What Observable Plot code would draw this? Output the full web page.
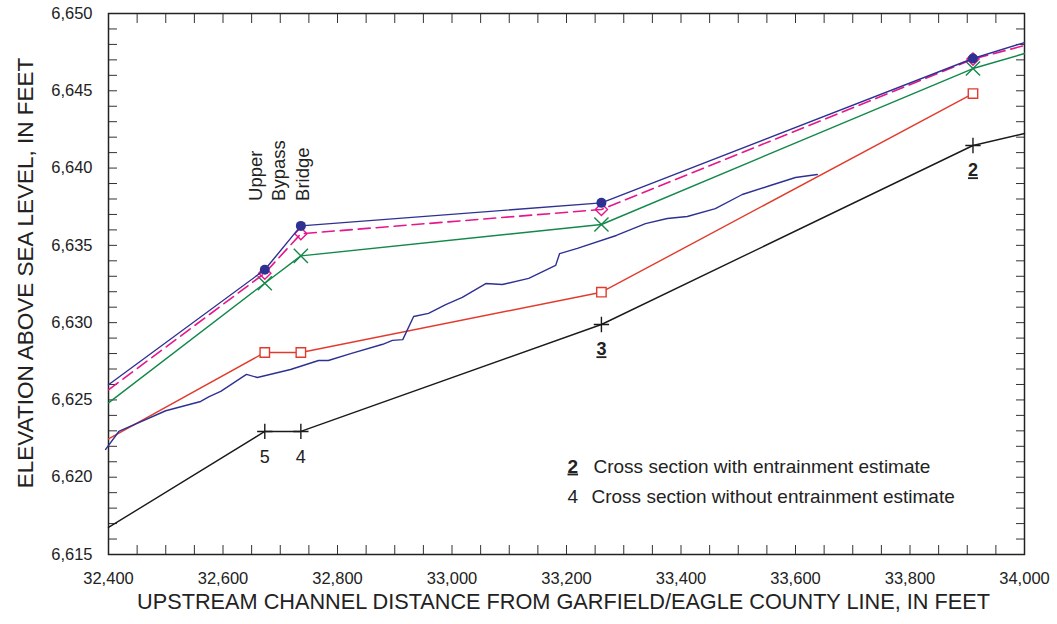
<!DOCTYPE html>
<html><head><meta charset="utf-8">
<script src="https://cdn.jsdelivr.net/npm/d3@7"></script>
<script src="https://cdn.jsdelivr.net/npm/@observablehq/plot@0.6"></script>
<style>body{margin:0;background:#fff;}</style>
</head><body><div id="chart"></div>
<script>
// Cross sections (upstream channel distance, ft)
const sectionX = [32673, 32736, 33261, 33910];
const sectionId = ["5", "4", "3", "2"];
const sectionEntrain = [false, false, true, true];

// Profiles drawn through the cross sections (first/last values are at the plot edges)
const lineX = [32400, 32673, 32736, 33261, 33910, 34000];
const blueCircleY = [6625.98, 6633.42, 6636.26, 6637.75, 6647.09, 6648.12];
const magentaDiamondY = [6625.65, 6633.20, 6635.75, 6637.32, 6647.05, 6647.93];
const greenTimesY = [6624.81, 6632.55, 6634.32, 6636.35, 6646.44, 6647.41];
const redSquareX = [32400, 32673, 32736, 33261, 33910];
const redSquareY = [6622.48, 6628.07, 6628.07, 6631.97, 6644.82];
const blackPlusY = [6616.75, 6622.96, 6622.96, 6629.88, 6641.46, 6642.24];

// Irregular blue profile
const profileX = [32395, 32418, 32500, 32561, 32575, 32596, 32641, 32660, 32718, 32767, 32784, 32823,
  32879, 32896, 32914, 32933, 32959, 32989, 33018, 33059, 33088, 33134, 33181, 33188, 33219, 33287,
  33338, 33376, 33411, 33460, 33507, 33556, 33600, 33638];
const profileY = [6621.80, 6622.96, 6624.30, 6624.90, 6625.20, 6625.55, 6626.65, 6626.45, 6626.97, 6627.55,
  6627.55, 6628.00, 6628.60, 6628.85, 6628.90, 6630.40, 6630.60, 6631.17, 6631.63, 6632.53, 6632.47,
  6632.86, 6633.70, 6634.47, 6634.80, 6635.64, 6636.41, 6636.74, 6636.87, 6637.38, 6638.29, 6638.87,
  6639.39, 6639.58];

const xTickLabels = [32400, 32600, 32800, 33000, 33200, 33400, 33600, 33800, 34000];
const yTickLabels = [6615, 6620, 6625, 6630, 6635, 6640, 6645, 6650];
const xMinorTicks = d3.range(32400, 34001, 50);
const yMinorTicks = d3.range(6615, 6651, 1);

const xTitle = "UPSTREAM CHANNEL DISTANCE FROM GARFIELD/EAGLE COUNTY LINE, IN FEET";
const yTitle = "ELEVATION ABOVE SEA LEVEL, IN FEET";
const bridgeText = "Upper\nBypass\nBridge";
const legendKeys = ["2", "4"];
const legendTexts = ["Cross section with entrainment estimate", "Cross section without entrainment estimate"];

const rows = (xs, ys) => xs.map((x, i) => ({x, y: ys[i]}));
const sectionRows = ys => sectionX.map((x, i) => ({x, y: ys[i + 1]}));

const C = {blue: "#2e3192", magenta: "#e6168c", green: "#13884a", red: "#e23b2e", black: "#1a1a1a"};
const sections = sectionX.map((x, i) => ({x, y: blackPlusY[i + 1], id: sectionId[i], ent: sectionEntrain[i]}));
const fmt = d3.format(",");

const plot = Plot.plot({
  width: 1057, height: 624,
  marginLeft: 108, marginRight: 33, marginTop: 13, marginBottom: 70,
  style: {fontFamily: "'Liberation Sans', Arial, sans-serif", color: "#222", background: "#fff"},
  x: {domain: [32400, 34000], label: null},
  y: {domain: [6615, 6650], label: null},
  marks: [
    Plot.axisX({anchor: "bottom", ticks: xMinorTicks, tickSize: -9, tickFormat: () => "", label: null, stroke: "#333"}),
    Plot.axisX({anchor: "top", ticks: xMinorTicks, tickSize: -9, tickFormat: () => "", label: null, stroke: "#333"}),
    Plot.axisY({anchor: "left", ticks: yMinorTicks, tickSize: -9, tickFormat: () => "", label: null, stroke: "#333"}),
    Plot.axisY({anchor: "right", ticks: yMinorTicks, tickSize: -9, tickFormat: () => "", label: null, stroke: "#333"}),
    Plot.axisX({anchor: "bottom", ticks: xTickLabels, tickSize: 0, tickPadding: 18, tickFormat: fmt, label: null, fontSize: 16.5}),
    Plot.axisY({anchor: "left", ticks: yTickLabels, tickSize: 0, tickPadding: 16, tickFormat: fmt, label: null, fontSize: 16.5}),
    Plot.frame({stroke: "#222", strokeWidth: 1.5}),

    Plot.line(rows(lineX, blackPlusY), {x: "x", y: "y", stroke: C.black, strokeWidth: 1.4}),
    Plot.dot(sectionRows(blackPlusY), {x: "x", y: "y", symbol: "plus", r: 5, stroke: C.black, strokeWidth: 1.4}),

    Plot.line(rows(redSquareX, redSquareY), {x: "x", y: "y", stroke: C.red, strokeWidth: 1.4}),
    Plot.dot(sectionRows(redSquareY), {x: "x", y: "y", symbol: "square2", r: 6, stroke: C.red, fill: "#fff", strokeWidth: 1.4}),

    Plot.line(rows(profileX, profileY), {x: "x", y: "y", stroke: C.blue, strokeWidth: 1.4}),

    Plot.line(rows(lineX, greenTimesY), {x: "x", y: "y", stroke: C.green, strokeWidth: 1.4}),
    Plot.dot(sectionRows(greenTimesY), {x: "x", y: "y", symbol: "times", r: 6.5, stroke: C.green, strokeWidth: 1.4}),

    Plot.line(rows(lineX, magentaDiamondY), {x: "x", y: "y", stroke: C.magenta, strokeWidth: 1.6, strokeDasharray: "12,6"}),
    Plot.dot(sectionRows(magentaDiamondY), {x: "x", y: "y", symbol: "diamond2", r: 5.5, stroke: C.magenta, fill: "none", strokeWidth: 1.4}),

    Plot.line(rows(lineX, blueCircleY), {x: "x", y: "y", stroke: C.blue, strokeWidth: 1.4}),
    Plot.dot(sectionRows(blueCircleY), {x: "x", y: "y", symbol: "circle", r: 5, fill: C.blue}),

    // cross-section labels
    Plot.text(sections.filter(d => !d.ent), {x: "x", y: "y", text: "id", dy: 26, fontSize: 18, fill: "#222"}),
    Plot.text(sections.filter(d => d.ent), {x: "x", y: "y", text: "id", dy: 25, fontSize: 18, fontWeight: "bold", fill: "#222", ariaDescription: "underlined"}),

    // bridge annotation
    Plot.text([{x: (sectionX[0] + sectionX[1]) / 2, y: blueCircleY[2]}], {x: "x", y: "y", text: () => bridgeText,
      rotate: -90, textAnchor: "start", lineAnchor: "middle", lineHeight: 1.27, dx: -5, dy: -25, fontSize: 18.5, fill: "#222"}),

    // legend
    Plot.text([legendKeys[0]], {text: d => d, frameAnchor: "bottom-left", dx: 459, dy: -82, fontSize: 19, fontWeight: "bold", fill: "#222", ariaDescription: "underlined"}),
    Plot.text([legendKeys[1]], {text: d => d, frameAnchor: "bottom-left", dx: 459, dy: -52, fontSize: 19, fill: "#222"}),
    Plot.text([legendTexts[0]], {text: d => d, frameAnchor: "bottom-left", dx: 485, dy: -82, textAnchor: "start", fontSize: 19, fill: "#222"}),
    Plot.text([legendTexts[1]], {text: d => d, frameAnchor: "bottom-left", dx: 483, dy: -52, textAnchor: "start", fontSize: 19, fill: "#222"}),

    // axis titles
    Plot.text([xTitle], {text: d => d, frameAnchor: "bottom", dx: -3, dy: 54, fontSize: 21.7, fill: "#222"}),
    Plot.text([yTitle], {text: d => d, frameAnchor: "left", rotate: -90, textAnchor: "middle", dx: -83, dy: -11, fontSize: 22.5, fill: "#222"})
  ]
});
plot.querySelectorAll('[aria-description="underlined"] text, text[aria-description="underlined"]').forEach(t => {
  t.style.textDecoration = "underline";
  t.setAttribute("text-decoration", "underline");
});
document.getElementById("chart").appendChild(plot);
</script>
</body></html>
